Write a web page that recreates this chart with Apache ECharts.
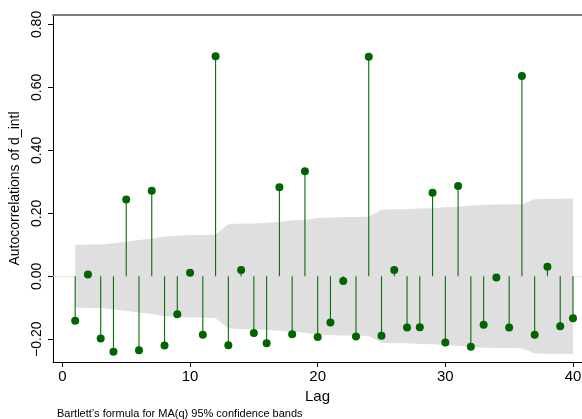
<!DOCTYPE html>
<html>
<head>
<meta charset="utf-8">
<script src="https://cdn.jsdelivr.net/npm/echarts@6/dist/echarts.min.js"></script>
<style>
  html, body { margin: 0; padding: 0; background: #ffffff; }
  #chart { width: 582px; height: 419px; }
</style>
</head>
<body>
<div id="chart"></div>
<script>
// Lags 1..40
const lags = [1, 2, 3, 4, 5, 6, 7, 8, 9, 10,
              11, 12, 13, 14, 15, 16, 17, 18, 19, 20,
              21, 22, 23, 24, 25, 26, 27, 28, 29, 30,
              31, 32, 33, 34, 35, 36, 37, 38, 39, 40];

// Sample autocorrelations of d_intl
const acValues = [-0.141, 0.006, -0.198, -0.240, 0.244, -0.235, 0.272, -0.220, -0.121, 0.011,
                  -0.186, 0.699, -0.219, 0.020, -0.180, -0.213, 0.283, -0.184, 0.334, -0.193,
                  -0.147, -0.015, -0.191, 0.697, -0.189, 0.020, -0.163, -0.162, 0.265, -0.210,
                  0.287, -0.224, -0.154, -0.004, -0.163, 0.636, -0.186, 0.030, -0.159, -0.133];

// Half-width of the 95% confidence band (Bartlett's formula for MA(q))
const bandHalfWidth = [0.099, 0.101, 0.101, 0.105, 0.110, 0.115, 0.120, 0.126, 0.129, 0.131,
                       0.131, 0.133, 0.165, 0.168, 0.168, 0.170, 0.173, 0.177, 0.179, 0.185,
                       0.187, 0.188, 0.188, 0.190, 0.211, 0.213, 0.213, 0.215, 0.216, 0.219,
                       0.221, 0.225, 0.227, 0.228, 0.228, 0.229, 0.245, 0.246, 0.246, 0.247];

const xTicks = [0, 10, 20, 30, 40];
const yTicks = [-0.2, 0, 0.2, 0.4, 0.6, 0.8];

// Axis extents (plot region padding around the data)
const X_MIN = -0.737, X_MAX = 40.707;
const Y_MIN = -0.2723, Y_MAX = 0.830;

const FONT = '"Liberation Sans", Arial, Helvetica, sans-serif';
const GREEN = '#006400';
const BAND = '#dfdfdf';

const chart = echarts.init(document.getElementById('chart'), null, { renderer: 'canvas' });

const bandData = lags.map((k, i) => [k, bandHalfWidth[i]]);
const acData = lags.map((k, i) => [k, acValues[i]]);

function renderBand(params, api) {
  if (params.dataIndex !== 0) return null;
  const upper = bandData.map(d => api.coord([d[0], d[1]]));
  const lower = bandData.slice().reverse().map(d => api.coord([d[0], -d[1]]));
  const z0a = api.coord([X_MIN, 0]);
  const z0b = api.coord([X_MAX, 0]);
  return {
    type: 'group',
    children: [
      {
        type: 'line',
        shape: { x1: z0a[0], y1: z0a[1], x2: z0b[0], y2: z0b[1] },
        style: { stroke: '#e2e2e2', lineWidth: 1 }
      },
      {
        type: 'polygon',
        shape: { points: upper.concat(lower) },
        style: { fill: BAND }
      }
    ]
  };
}

function renderStem(params, api) {
  const x = api.value(0);
  const p0 = api.coord([x, 0]);
  const p1 = api.coord([x, api.value(1)]);
  return {
    type: 'line',
    shape: { x1: p0[0], y1: p0[1], x2: p1[0], y2: p1[1] },
    style: { stroke: '#0b6b0b', lineWidth: 1.1 }
  };
}

const option = {
  backgroundColor: '#ffffff',
  animation: false,
  grid: { left: 53, right: 0, top: 15, bottom: 57, outerBoundsMode: 'none' },
  xAxis: [
    {
      type: 'value',
      position: 'bottom',
      min: X_MIN,
      max: X_MAX,
      axisLine: { show: true, onZero: false, lineStyle: { color: '#000000', width: 1 } },
      axisTick: { show: true, customValues: xTicks, length: 5, lineStyle: { color: '#000000', width: 1 } },
      axisLabel: {
        show: true, customValues: xTicks, margin: 7,
        color: '#000000', fontSize: 15, fontFamily: FONT,
        formatter: v => String(v)
      },
      splitLine: { show: false },
      name: 'Lag',
      nameLocation: 'middle',
      nameGap: 24,
      nameTextStyle: { color: '#000000', fontSize: 15, fontFamily: FONT }
    },
    {
      type: 'value',
      position: 'top',
      min: X_MIN,
      max: X_MAX,
      axisLine: { show: true, onZero: false, lineStyle: { color: '#7a7a7a', width: 2 } },
      axisTick: { show: false },
      axisLabel: { show: false },
      splitLine: { show: false }
    }
  ],
  yAxis: {
    type: 'value',
    min: Y_MIN,
    max: Y_MAX,
    axisLine: { show: true, onZero: false, lineStyle: { color: '#000000', width: 1 } },
    axisTick: { show: true, customValues: yTicks, length: 5, lineStyle: { color: '#000000', width: 1 } },
    axisLabel: {
      show: true, customValues: yTicks, rotate: 90, margin: 9,
      color: '#000000', fontSize: 14, fontFamily: FONT,
      formatter: v => v.toFixed(2).replace('-', '\u2212')
    },
    splitLine: { show: false },
    name: 'Autocorrelations of d_intl',
    nameLocation: 'middle',
    nameRotate: 90,
    nameGap: 25,
    nameTextStyle: { color: '#000000', fontSize: 14, fontFamily: FONT }
  },
  series: [
    {
      name: 'band',
      type: 'custom',
      renderItem: renderBand,
      data: bandData,
      z: 1,
      silent: true
    },
    {
      name: 'stems',
      type: 'custom',
      renderItem: renderStem,
      data: acData,
      z: 2,
      silent: true
    },
    {
      name: 'ac',
      type: 'scatter',
      data: acData,
      symbol: 'circle',
      symbolSize: 8,
      itemStyle: { color: GREEN, opacity: 1 },
      z: 3,
      silent: true
    }
  ],
  graphic: [
    {
      type: 'text',
      left: 57,
      top: 408,
      style: {
        text: 'Bartlett\u2019s formula for MA(q) 95% confidence bands',
        font: '11px ' + FONT,
        fill: '#000000'
      }
    }
  ]
};

chart.setOption(option);
</script>
</body>
</html>
